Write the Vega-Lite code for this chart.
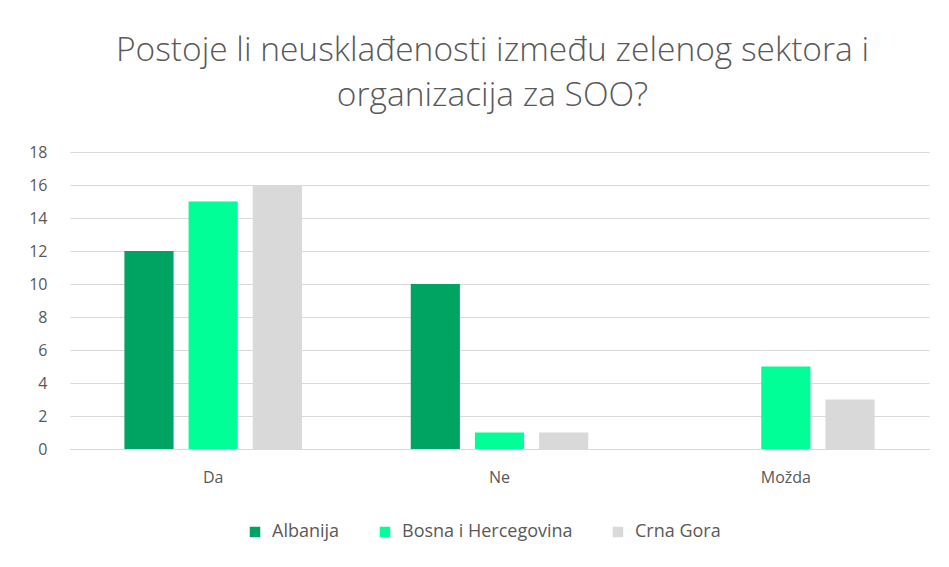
{
  "$schema": "https://vega.github.io/schema/vega-lite/v6.json",
  "autosize": "none",
  "width": 859,
  "height": 297,
  "padding": {"left": 70, "top": 152, "right": 20, "bottom": 118},
  "background": "white",
  "title": {
    "text": ["Postoje li neusklađenosti između zelenog sektora i", "organizacija za SOO?"],
    "font": "Open Sans",
    "fontWeight": 300,
    "fontSize": 33.5,
    "color": "#595959",
    "lineHeight": 45,
    "anchor": "middle",
    "dx": -7,
    "offset": 31
  },
  "data": {
    "values": [
      {"odgovor": "Da", "zemlja": "Albanija", "broj": 12},
      {"odgovor": "Da", "zemlja": "Bosna i Hercegovina", "broj": 15},
      {"odgovor": "Da", "zemlja": "Crna Gora", "broj": 16},
      {"odgovor": "Ne", "zemlja": "Albanija", "broj": 10},
      {"odgovor": "Ne", "zemlja": "Bosna i Hercegovina", "broj": 1},
      {"odgovor": "Ne", "zemlja": "Crna Gora", "broj": 1},
      {"odgovor": "Možda", "zemlja": "Albanija", "broj": 0},
      {"odgovor": "Možda", "zemlja": "Bosna i Hercegovina", "broj": 5},
      {"odgovor": "Možda", "zemlja": "Crna Gora", "broj": 3}
    ]
  },
  "mark": {"type": "bar"},
  "encoding": {
    "x": {
      "field": "odgovor",
      "type": "nominal",
      "sort": ["Da", "Ne", "Možda"],
      "scale": {"paddingInner": 0.38, "paddingOuter": 0.19},
      "axis": {
        "title": null,
        "labelAngle": 0,
        "ticks": false,
        "domainColor": "#d9d9d9",
        "labelPadding": 20,
        "labelFont": "Open Sans",
        "labelFontSize": 16,
        "labelColor": "#595959"
      }
    },
    "xOffset": {
      "field": "zemlja",
      "type": "nominal",
      "scale": {"paddingInner": 0.234, "paddingOuter": 0}
    },
    "y": {
      "field": "broj",
      "type": "quantitative",
      "scale": {"domain": [0, 18]},
      "axis": {
        "title": null,
        "values": [0, 2, 4, 6, 8, 10, 12, 14, 16, 18],
        "domain": false,
        "ticks": false,
        "labelPadding": 23,
        "gridColor": "#d9d9d9",
        "labelFont": "Open Sans",
        "labelFontSize": 16,
        "labelColor": "#595959"
      }
    },
    "color": {
      "field": "zemlja",
      "type": "nominal",
      "scale": {
        "domain": ["Albanija", "Bosna i Hercegovina", "Crna Gora"],
        "range": ["#00a462", "#00ff96", "#d9d9d9"]
      },
      "legend": {
        "title": null,
        "orient": "none",
        "legendX": 176,
        "legendY": 371,
        "direction": "horizontal",
        "symbolType": "square",
        "symbolSize": 110,
        "symbolStrokeWidth": 0,
        "labelFont": "Open Sans",
        "labelFontSize": 18,
        "labelLimit": 400,
        "labelColor": "#595959",
        "labelOffset": 8,
        "columnPadding": 36
      }
    }
  },
  "config": {"view": {"stroke": null}}
}
